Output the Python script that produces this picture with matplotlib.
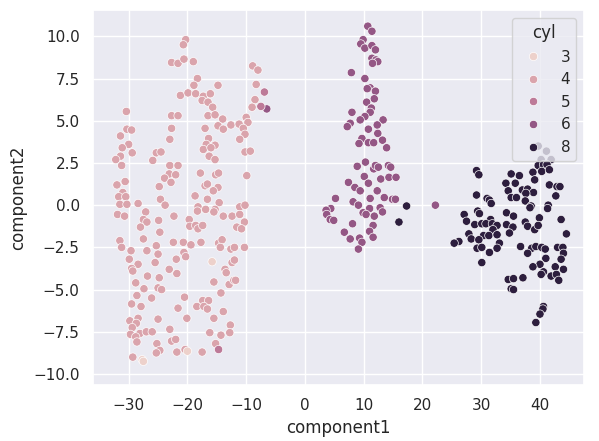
import numpy as np
import pandas as pd
import matplotlib
matplotlib.use("Agg")
import matplotlib.pyplot as plt
import seaborn as sns

# points, grouped by cylinder count
x4 = [-20.3, -20.7, -22.7, -21.6, -20.6, -19.0, -8.9, -8.0, -18.3, -18.9, -14.8, -8.3,
      -21.2, -19.9, -18.6, -17.3, -16.1, -17.5, -16.5, -15.7, -8.5, -9.0, -30.4, -22.7,
      -21.6, -16.5, -15.3, -14.0, -14.8, -13.9, -12.6, -11.2, -10.0, -9.7, -10.5, -10.2,
      -11.1, -30.3, -29.5, -31.4, -22.7, -23.0, -17.0, -16.4, -16.8, -15.3, -17.3, -16.0,
      -16.3, -15.3, -30.0, -31.1, -29.4, -31.4, -32.2, -31.2, -25.3, -24.5, -25.9, -10.2,
      -9.3, -23.0, -21.6, -17.8, -15.2, -14.7, -9.9, -23.1, -22.0, -23.9, -22.8, -24.8,
      -32.0, -30.6, -17.0, -16.6, -14.8, -15.6, -31.0, -31.7, -18.7, -24.6, -16.6,
      -30.5, -31.5, -30.3, -28.4, -23.8, -14.6, -18.2, -18.3, -16.9, -15.3, -15.5, -13.9,
      -12.4, -11.1, -10.2, -11.1, -31.9, -30.7, -27.1, -27.5, -26.9, -28.0, -24.9, -24.7,
      -22.3, -19.7, -19.6, -18.6, -18.2, -17.4, -10.3, -11.6, -10.8, -31.5, -31.2, -29.6,
      -27.5, -26.9, -25.3, -25.0, -22.4, -20.7, -19.4, -20.6, -20.3, -17.7, -14.7, -14.1,
      -14.4, -12.6, -12.0, -10.3, -29.9, -28.4, -29.5, -29.3, -25.5, -21.9, -23.1, -21.8,
      -12.4, -12.0, -13.6, -13.4, -28.8, -26.8, -24.8, -27.4, -25.0, -24.4, -15.5, -12.9,
      -12.1, -11.8, -14.3, -28.6, -29.5, -27.9, -26.1, -20.5, -21.6, -17.4, -16.4, -18.4,
      -17.2, -16.6, -13.9, -29.8, -28.4, -28.7, -29.4, -28.1, -29.7, -28.8, -28.6, -27.0,
      -26.0, -25.0, -23.0, -22.7, -22.0, -20.1, -25.2, -24.7, -25.3, -21.8, -20.4, -17.5,
      -15.5, -16.2, -14.3, -12.7, -12.8, -15.2, -29.3]
y4 = [9.8, 9.5, 8.45, 8.4, 8.65, 8.5, 8.25, 8.0, 7.5, 7.1, 7.1, 7.15,
      6.5, 6.65, 6.6, 6.45, 6.6, 6.2, 6.1, 5.8, 6.25, 5.8, 5.55, 5.3,
      5.3, 5.3, 5.35, 5.1, 4.7, 4.5, 4.75, 4.8, 5.2, 4.9, 4.55, 4.2,
      3.9, 4.5, 4.45, 4.1, 4.55, 3.9, 4.55, 3.95, 3.6, 3.55, 3.3, 3.4,
      2.9, 2.7, 3.6, 3.4, 3.1, 2.9, 2.7, 2.35, 3.1, 3.15, 2.65, 3.15,
      3.2, 2.35, 2.35, 1.9, 1.8, 1.9, 1.75, 1.85, 1.8, 1.6, 1.35, 1.1,
      1.2, 1.4, 1.15, 1.25, 1.05, 0.85, 0.75, 0.5, 0.55, 0.35, 0.35,
      0.5, 0.05, 0.05, 0.1, 0.0, 0.15, -0.1, -0.35, -0.25, -0.25, -0.4, -0.65,
      -0.65, -0.1, 0.0, -0.55, -0.55, -0.65, -0.4, -0.85, -1.0, -1.3, -0.9, -1.6,
      -0.65, -0.85, -1.25, -1.2, -1.4, -1.2, -1.0, -1.3, -1.4, -2.1, -2.5, -2.7,
      -2.0, -2.7, -2.4, -2.9, -2.2, -2.2, -2.35, -2.8, -3.05, -2.2, -2.25, -2.05,
      -2.5, -2.6, -2.5, -2.5, -3.2, -3.5, -3.75, -3.9, -3.4, -3.2, -3.8, -4.05,
      -3.4, -3.25, -3.8, -4.0, -4.6, -4.2, -4.3, -4.95, -4.9, -5.0, -4.55, -4.7,
      -4.45, -4.45, -5.2, -5.35, -5.85, -6.0, -5.5, -5.45, -6.1, -5.65, -5.65, -6.0,
      -6.0, -6.15, -6.3, -6.85, -6.7, -7.0, -7.25, -7.6, -7.65, -7.8, -8.1, -7.5,
      -7.5, -6.75, -7.35, -8.05, -7.95, -6.7, -8.2, -8.6, -8.75, -8.7, -8.55, -8.7,
      -6.7, -7.55, -7.7, -7.1, -7.55, -8.2, -9.0]

x3 = [-15.8, -20.0, -27.7, -27.5]
y3 = [-3.35, -8.65, -9.15, -9.25]

x5 = [-6.9, -7.5, -14.7]
y5 = [6.7, 5.85, -8.55]

x6 = [-6.5, 10.7, 11.4, 9.9, 9.5, 10.2, 11.4, 12.0, 11.4, 12.1, 12.4, 11.5, 7.9, 10.2,
      11.1, 10.6, 12.0, 11.8, 10.5, 11.3, 11.1, 8.0, 10.2, 9.4, 13.3, 7.7, 7.2, 12.3,
      10.8, 12.4, 9.7, 13.2, 9.2, 10.8, 11.7, 13.9, 8.9, 10.3, 11.7, 12.0, 12.5, 14.2,
      14.6, 10.1, 7.4, 8.5, 9.4, 10.8, 12.9, 14.3, 15.5, 12.3, 5.2, 8.2, 9.1, 11.1,
      13.5, 14.9, 15.4, 22.2, 4.4, 3.6, 3.7, 4.3, 4.9, 11.0, 12.8, 13.2, 9.9, 10.4,
      11.8, 8.1, 11.6, 6.7, 11.0, 7.7, 9.3, 9.7, 11.6, 9.1]
y6 = [5.7, 10.6, 10.3, 9.8, 9.55, 9.3, 9.45, 9.2, 8.7, 8.6, 8.5, 8.4, 7.85, 7.5,
      6.95, 6.9, 6.75, 6.3, 6.1, 5.75, 5.5, 5.5, 5.25, 5.05, 5.05, 4.85, 4.65, 4.75,
      4.5, 4.25, 3.95, 3.85, 3.65, 3.7, 3.7, 3.4, 2.3, 2.55, 2.15, 2.35, 2.25, 2.35,
      2.25, 1.7, 1.35, 1.05, 0.85, 1.3, 1.55, 1.65, 1.65, 0.85, 0.4, 0.2, 0.0, 0.4,
      0.45, 0.35, 0.35, 0.0, -0.2, -0.3, -0.55, -0.85, -0.9, -0.2, -0.15, -0.4, -0.45, -0.55,
      -0.65, -1.1, -1.2, -1.6, -1.55, -2.0, -1.95, -2.2, -1.9, -2.6]

x8 = [17.3, 16.0, 39.7, 41.1, 40.2, 41.9, 39.7, 40.6, 41.2, 38.8, 40.3, 41.6, 29.2, 29.6,
      35.1, 36.5, 39.1, 34.2, 35.8, 41.6, 42.9, 43.4, 34.6, 37.0, 37.9, 38.9, 37.6, 29.2,
      35.1, 36.0, 42.7, 31.0, 31.4, 31.7, 37.5, 38.5, 38.3, 41.4, 41.3, 29.4, 29.7, 27.1,
      34.3, 35.5, 27.5, 31.6, 28.9, 30.1, 30.8, 31.9, 32.7, 34.3, 35.4, 37.5, 37.9, 39.1,
      39.9, 39.7, 43.6, 32.0, 30.4, 31.3, 32.7, 34.8, 27.9, 28.3, 29.6, 44.5, 26.2, 25.4,
      33.1, 29.3, 30.1, 32.7, 31.4, 36.7, 38.6, 39.3, 40.3, 40.9, 37.9, 43.0, 43.9, 44.0,
      41.0, 43.6, 30.1, 40.0, 38.8, 42.6, 44.0, 40.6, 40.2, 41.9, 42.8, 43.2, 34.6, 35.5,
      37.1, 35.1, 35.5, 40.6, 40.5, 40.0, 39.3]
y8 = [-0.05, -1.0, 3.5, 3.2, 2.7, 2.7, 2.35, 2.4, 2.4, 1.95, 2.0, 2.1, 2.05, 1.8,
      1.85, 1.75, 1.5, 1.3, 1.3, 1.2, 1.1, 1.1, 0.85, 0.9, 0.95, 0.75, 0.7, 0.6,
      0.45, 0.45, 0.55, 0.4, 0.3, 0.1, 0.25, -0.05, -0.15, 0.0, -0.2, -0.35, -0.5, -0.55,
      -0.45, -0.65, -0.95, -0.85, -1.15, -1.1, -1.1, -1.1, -1.2, -1.15, -1.3, -1.0, -1.25, -1.45,
      -0.75, -1.2, -0.85, -1.45, -1.8, -1.8, -1.75, -1.65, -1.7, -2.0, -2.05, -1.7, -2.15, -2.25,
      -2.25, -2.55, -2.5, -2.55, -2.8, -2.45, -2.55, -2.45, -2.5, -2.6, -2.85, -2.5, -2.5, -2.85,
      -3.15, -3.2, -3.4, -3.5, -3.65, -3.65, -3.8, -3.95, -4.1, -4.2, -4.1, -4.45, -4.4, -4.35,
      -4.3, -4.95, -5.0, -6.0, -6.15, -6.45, -6.95]

groups = [(8, x8, y8), (6, x6, y6), (4, x4, y4), (5, x5, y5), (3, x3, y3)]
df = pd.concat([pd.DataFrame({'component1': xs, 'component2': ys, 'cyl': c})
                for c, xs, ys in groups], ignore_index=True)

sns.set_theme()

fig, ax = plt.subplots(figsize=(5.99, 4.41), dpi=100)
fig.subplots_adjust(left=0.155, right=0.975, top=0.977, bottom=0.127)

sns.scatterplot(data=df, x='component1', y='component2', hue='cyl', ax=ax)

ax.set_xlim(-36.1, 47.5)
ax.set_ylim(-10.65, 11.55)
ax.set_yticks(np.arange(-10, 10.1, 2.5))
ax.legend(title='cyl', loc='upper right')

fig.savefig('out.png', dpi=100)
